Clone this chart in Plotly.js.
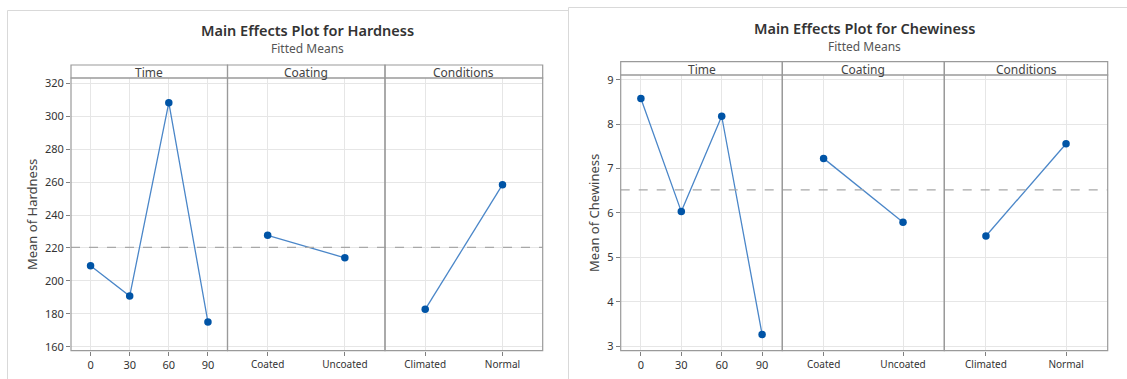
<!DOCTYPE html>
<html>
<head>
<meta charset="utf-8">
<script src="https://cdn.plot.ly/plotly-3.0.1.min.js"></script>
<style>html,body{margin:0;padding:0;background:#fff;}#chart{width:1127px;height:379px;}</style>
</head>
<body>
<div id="chart"></div>
<script>
// ---------- data ----------
const timeLabels = ['0', '30', '60', '90'];
const coatingLabels = ['Coated', 'Uncoated'];
const conditionLabels = ['Climated', 'Normal'];
const panelNames = ['Time', 'Coating', 'Conditions'];

const hardnessTime = [209.2, 190.8, 308.2, 175.0];
const hardnessCoating = [227.7, 214.0];
const hardnessConditions = [182.7, 258.4];
const hardnessMean = 220.4;
const hardnessTicks = [160, 180, 200, 220, 240, 260, 280, 300, 320];

const chewTime = [8.58, 6.03, 8.18, 3.26];
const chewCoating = [7.23, 5.79];
const chewConditions = [5.48, 7.56];
const chewMean = 6.52;
const chewTicks = [3, 4, 5, 6, 7, 8, 9];

// ---------- layout helpers ----------
const W = 1127, H = 379;
const px = x => x / W;
const py = y => 1 - y / H;

const FONT = 'Noto Sans, Open Sans, sans-serif';
const LINE = '#4a86c8';
const MARK = '#0054a6';
const FRAME = '#9a9a9a';
const GRID = '#e6e6e6';

function trace(x, y, xa, ya) {
  return {
    x: x, y: y, xaxis: xa, yaxis: ya, type: 'scatter', mode: 'lines+markers',
    line: {color: LINE, width: 1.3},
    marker: {color: MARK, size: 7.5},
    hoverinfo: 'x+y', showlegend: false
  };
}

const data = [
  trace(timeLabels, hardnessTime, 'x', 'y'),
  trace(coatingLabels, hardnessCoating, 'x2', 'y'),
  trace(conditionLabels, hardnessConditions, 'x3', 'y'),
  trace(timeLabels, chewTime, 'x4', 'y2'),
  trace(coatingLabels, chewCoating, 'x5', 'y2'),
  trace(conditionLabels, chewConditions, 'x6', 'y2')
];

function xax(domain, anchor, range, labels, size) {
  return {
    domain: domain, anchor: anchor, type: 'category', range: range,
    categoryorder: 'array', categoryarray: labels,
    showgrid: true, gridcolor: GRID, gridwidth: 1,
    zeroline: false, showline: false,
    ticks: 'outside', ticklen: 4, tickcolor: '#808080',
    tickfont: {family: FONT, size: size, color: '#333'},
    fixedrange: true
  };
}
function yax(domain, anchor, range, ticks, title) {
  return {
    domain: domain, anchor: anchor, range: range,
    tickvals: ticks, ticktext: ticks.map(String),
    showgrid: true, gridcolor: GRID, gridwidth: 1,
    zeroline: false, showline: false,
    ticks: 'outside', ticklen: 4, tickcolor: '#808080',
    tickfont: {family: FONT, size: 11, color: '#333'},
    title: {text: title, font: {family: FONT, size: 13, color: '#444'}, standoff: 4},
    fixedrange: true
  };
}

// pixel geometry
const L = {top: 78, hdr: 65, bottom: 350.7, xs: [71, 227.5, 385, 542.7]};
const R = {top: 75, hdr: 61.7, bottom: 350.7, xs: [620.7, 782.3, 944.3, 1107.7]};

const layout = {
  width: W, height: H,
  margin: {l: 0, r: 0, t: 0, b: 0},
  paper_bgcolor: '#fff', plot_bgcolor: '#fff',
  showlegend: false,
  xaxis: xax([px(L.xs[0]), px(L.xs[1])], 'y', [-0.5, 3.5], timeLabels, 11),
  xaxis2: xax([px(L.xs[1]), px(L.xs[2])], 'y', [-0.52, 1.52], coatingLabels, 10),
  xaxis3: xax([px(L.xs[2]), px(L.xs[3])], 'y', [-0.52, 1.52], conditionLabels, 10),
  xaxis4: xax([px(R.xs[0]), px(R.xs[1])], 'y2', [-0.5, 3.5], timeLabels, 11),
  xaxis5: xax([px(R.xs[1]), px(R.xs[2])], 'y2', [-0.52, 1.52], coatingLabels, 10),
  xaxis6: xax([px(R.xs[2]), px(R.xs[3])], 'y2', [-0.52, 1.52], conditionLabels, 10),
  yaxis: yax([py(L.bottom), py(L.top)], 'x', [157.6, 323.2], hardnessTicks, 'Mean of Hardness'),
  yaxis2: yax([py(R.bottom), py(R.top)], 'x4', [2.894, 9.11], chewTicks, 'Mean of Chewiness'),
  shapes: [],
  annotations: []
};

// outer frames of the two charts
const OUT = '#d9d9d9';
layout.shapes.push(
  {type: 'line', xref: 'paper', yref: 'paper', x0: px(7.5), x1: px(7.5), y0: py(10.5), y1: py(379), line: {color: OUT, width: 1}},
  {type: 'line', xref: 'paper', yref: 'paper', x0: px(7.5), x1: px(568.5), y0: py(10.5), y1: py(10.5), line: {color: OUT, width: 1}},
  {type: 'line', xref: 'paper', yref: 'paper', x0: px(568.5), x1: px(568.5), y0: py(7.5), y1: py(379), line: {color: OUT, width: 1}},
  {type: 'line', xref: 'paper', yref: 'paper', x0: px(568.5), x1: px(1127), y0: py(7.5), y1: py(7.5), line: {color: OUT, width: 1}}
);

function panels(G, yref, mean) {
  // mean reference line
  layout.shapes.push({type: 'line', xref: 'paper', yref: yref, x0: px(G.xs[0]), x1: px(G.xs[3]), y0: mean, y1: mean,
    line: {color: '#a8a8a8', width: 1.3, dash: 'dash'}, layer: 'above'});
  for (let i = 0; i < 3; i++) {
    // panel frame
    layout.shapes.push({type: 'rect', xref: 'paper', yref: 'paper', x0: px(G.xs[i]), x1: px(G.xs[i + 1]),
      y0: py(G.bottom), y1: py(G.top), line: {color: FRAME, width: 1.2}, fillcolor: 'rgba(0,0,0,0)'});
    // header strip
    layout.shapes.push({type: 'rect', xref: 'paper', yref: 'paper', x0: px(G.xs[i]), x1: px(G.xs[i + 1]),
      y0: py(G.top), y1: py(G.hdr), line: {color: FRAME, width: 1.2}, fillcolor: 'rgba(0,0,0,0)'});
    layout.annotations.push({xref: 'paper', yref: 'paper', x: px((G.xs[i] + G.xs[i + 1]) / 2), y: py((G.top + G.hdr) / 2 + 1),
      text: panelNames[i], showarrow: false, xanchor: 'center', yanchor: 'middle',
      font: {family: FONT, size: 12, color: '#444'}});
  }
}
panels(L, 'y', hardnessMean);
panels(R, 'y2', chewMean);

// titles
function titles(cx, ty, sy, main) {
  layout.annotations.push(
    {xref: 'paper', yref: 'paper', x: px(cx), y: py(ty), text: main, showarrow: false, xanchor: 'center', yanchor: 'middle',
      font: {family: FONT, size: 14.5, color: '#333', weight: 600}},
    {xref: 'paper', yref: 'paper', x: px(cx), y: py(sy), text: 'Fitted Means', showarrow: false, xanchor: 'center', yanchor: 'middle',
      font: {family: FONT, size: 12, color: '#555'}}
  );
}
titles(307, 30.5, 48, 'Main Effects Plot for Hardness');
titles(864.5, 28, 46.5, 'Main Effects Plot for Chewiness');

Plotly.newPlot('chart', data, layout, {displayModeBar: false, staticPlot: true});
</script>
</body>
</html>
